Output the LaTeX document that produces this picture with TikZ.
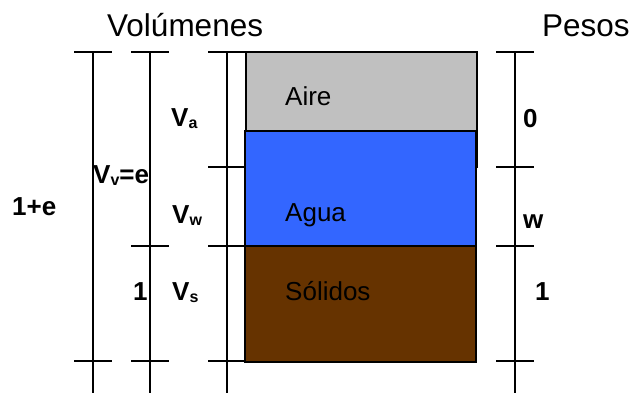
\documentclass[tikz,border=0pt]{standalone}
\usepackage{fontspec}
\setmainfont{Liberation Sans}
\definecolor{aire}{HTML}{C0C0C0}
\definecolor{agua}{HTML}{3366FF}
\definecolor{solido}{HTML}{663300}
\newcommand{\sbs}[1]{\raisebox{-2pt}{\fontsize{16}{16}\selectfont\bfseries #1}}
\begin{document}
\begin{tikzpicture}[x=1pt,y=-1pt,
  ln/.style={line width=1.8pt},
  box/.style={draw=black,line width=2pt},
  lbl/.style={inner sep=0pt,anchor=base west,font=\fontsize{26}{26}\selectfont\bfseries},
  txt/.style={inner sep=0pt,anchor=base west,font=\fontsize{26}{26}\selectfont},
  ttl/.style={inner sep=0pt,anchor=base west,font=\fontsize{31.5}{31.5}\selectfont}]
\useasboundingbox (0,0) rectangle (632,393);
% phases
\path[box,fill=aire] (246,52) rectangle (477,167);
\path[box,fill=agua] (245,131) rectangle (476,246);
\path[box,fill=solido] (245,246) rectangle (476,362);
% vertical dimension lines
\draw[ln] (93,52) -- (93,393);
\draw[ln] (74,52) -- (112,52) (74,361) -- (112,361);
\draw[ln] (150,52) -- (150,393);
\draw[ln] (131,52) -- (169,52) (131,246) -- (169,246) (131,361) -- (169,361);
\draw[ln] (227,52) -- (227,393);
\draw[ln] (208,52) -- (246,52) (208,167) -- (246,167) (208,246) -- (246,246) (208,361) -- (246,361);
\draw[ln] (515,52) -- (515,393);
\draw[ln] (496,52) -- (534,52) (496,167) -- (534,167) (496,246) -- (534,246) (496,361) -- (534,361);
% titles
\node[ttl] (vol) at (107,37) {Volúmenes};
\node[ttl] (pes) at (542,37) {Pesos};
% phase names
\node[txt] (aire) at (285,106) {Aire};
\node[txt] (agua) at (285,222) {Agua};
\node[txt] (sol) at (285,300) {Sólidos};
% volume labels
\node[lbl] (va) at (171,127) {V\sbs{a}};
\node[lbl] (vv) at (93,183) {V\sbs{v}=e};
\node[lbl] (vw) at (172,223) {V\sbs{w}};
\node[lbl] (vs) at (172,300) {V\sbs{s}};
\node[lbl] (one) at (133,300) {1};
\node[lbl] (onee) at (12,215) {1+e};
% weight labels
\node[lbl] (w0) at (523,128) {0};
\node[lbl] (ww) at (523,228) {w};
\node[lbl] (w1) at (535,300) {1};
\end{tikzpicture}
\end{document}
